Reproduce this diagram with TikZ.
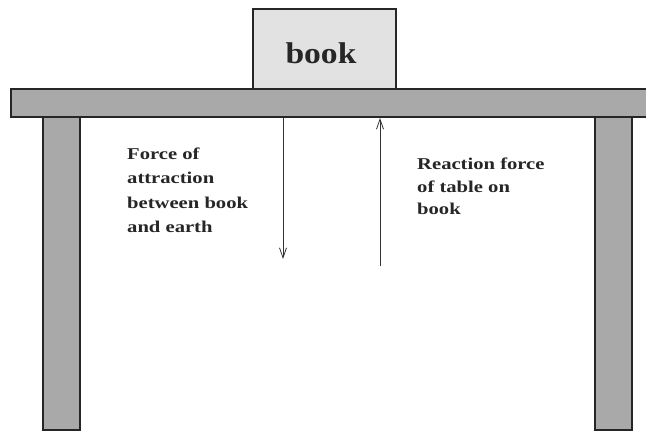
\documentclass[tikz,border=0pt]{standalone}
\usepackage{fontspec}
\setmainfont{Liberation Serif}
\newfontfamily\lblfont[FakeStretch=1.25]{Liberation Serif}
\newfontfamily\bookfont[FakeStretch=1.12]{Liberation Serif}
\usetikzlibrary{arrows.meta}
\definecolor{tablegray}{HTML}{A9A9A9}
\definecolor{bookgray}{HTML}{E2E2E2}
\tikzset{
  part/.style={draw=black!85, line width=1.8pt, fill=tablegray, inner sep=0pt, outer sep=0pt},
  bookbox/.style={draw=black!85, line width=1.6pt, fill=bookgray, inner sep=0pt, outer sep=0pt},
  force/.style={draw=black!80, line width=0.8pt, -{Straight Barb[length=10pt,width=7pt]}},
  lbl/.style={align=left, anchor=north west, inner sep=0pt, text=black!85}
}
\begin{document}
\begin{tikzpicture}[x=1pt,y=-1pt]
\useasboundingbox (0,0) rectangle (646,434);
\fill[white] (0,0) rectangle (646,434);
% legs
\node[part, minimum width=37pt, minimum height=318pt, anchor=north west] (lleg) at (43,112) {};
\node[part, minimum width=37pt, minimum height=318pt, anchor=north west] (rleg) at (595,112) {};
% tabletop
\node[part, minimum width=650pt, minimum height=28pt, anchor=north west] (top) at (11,89) {};
% book
\node[bookbox, minimum width=143pt, minimum height=80pt, anchor=south west] (book) at (253,89) {};
\node[inner sep=0pt, anchor=base, text=black!85] (booktext) at (321,63)
  {\bookfont\bfseries\fontsize{30}{30}\selectfont book};
% forces
\coordinate (dstart) at (283,118);
\coordinate (dend) at (283,259);
\coordinate (ustart) at (380,266);
\coordinate (uend) at (380,118);
\draw[force] (dstart) -- (dend);
\draw[force] (ustart) -- (uend);
% labels
\node[lbl, font=\lblfont\bfseries\fontsize{16.5}{24.5}\selectfont] (ltext) at (127,147.5) {Force of\\attraction\\between book\\and earth};
\node[lbl, font=\lblfont\bfseries\fontsize{16.5}{22.5}\selectfont] (rtext) at (417,158) {Reaction force\\of table on\\book};
\end{tikzpicture}
\end{document}
